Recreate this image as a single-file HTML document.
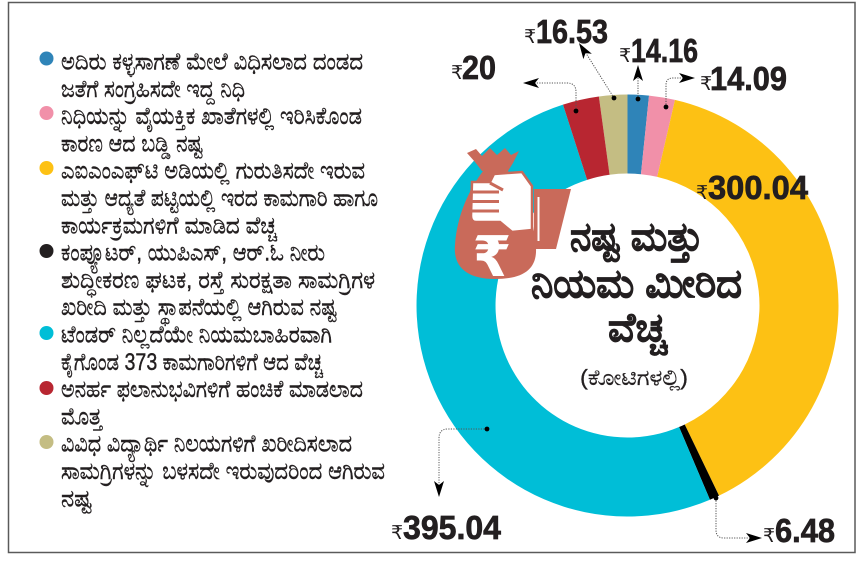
<!DOCTYPE html>
<html>
<head>
<meta charset="utf-8">
<style>
  html,body{margin:0;padding:0;background:#fff;}
  svg{display:block;}
  .lg{font-family:"Liberation Sans","Noto Sans CJK JP",sans-serif;font-size:24px;fill:#231f20;stroke:#231f20;stroke-width:0.45;}
  .num{font-family:"Liberation Sans",sans-serif;font-weight:bold;font-size:33px;fill:#231f20;stroke:#231f20;stroke-width:0.7;}
  .rs{font-family:"Liberation Sans","DejaVu Sans",sans-serif;font-size:19px;fill:#231f20;}
  .ttl{font-family:"Liberation Sans","Noto Sans CJK JP",sans-serif;font-weight:bold;font-size:40px;fill:#231f20;stroke:#231f20;stroke-width:0.6;}
  .sub{font-family:"Liberation Sans","Noto Sans CJK JP",sans-serif;font-size:22px;fill:#231f20;stroke:#231f20;stroke-width:0.3;}
  .ld{fill:none;stroke:#555;stroke-width:1;stroke-dasharray:1.2 1.3;}
</style>
</head>
<body>
<svg width="862" height="565" viewBox="0 0 862 565" xmlns="http://www.w3.org/2000/svg">
  <rect x="0" y="0" width="862" height="565" fill="#fff"/>
  <rect x="8.5" y="2.5" width="846.5" height="550" fill="#fff" stroke="#5a5a5a" stroke-width="1.5"/>

  <!-- Donut -->
  <path d="M598.86,96.45 A211,211 0 0 1 627.5,94.5 L627.5,173.5 A132,132 0 0 0 609.58,174.72 Z" fill="#c4bd83"/>
  <path d="M627.5,94.5 A211,211 0 0 1 649.01,95.60 L640.95,174.19 A132,132 0 0 0 627.5,173.5 Z" fill="#2f84b8"/>
  <path d="M649.01,95.60 A211,211 0 0 1 674.96,99.91 L657.19,176.88 A132,132 0 0 0 640.95,174.19 Z" fill="#f190a9"/>
  <path d="M674.96,99.91 A211,211 0 0 1 719.00,495.63 L684.74,424.44 A132,132 0 0 0 657.19,176.88 Z" fill="#fdc114"/>
  <path d="M719.00,495.63 A211,211 0 0 1 709.94,499.73 L679.08,427.01 A132,132 0 0 0 684.74,424.44 Z" fill="#000"/>
  <path d="M709.94,499.73 A211,211 0 1 1 563.00,104.60 L587.15,179.82 A132,132 0 1 0 679.08,427.01 Z" fill="#00bed7"/>
  <path d="M563.00,104.60 A211,211 0 0 1 598.86,96.45 L609.58,174.72 A132,132 0 0 0 587.15,179.82 Z" fill="#b82631"/>

  <!-- Money bag icon -->
  <g fill="#c96a5a">
    <polygon points="467,153 476,149 482,156 490,148 497,155 505,148 511,155 519,151 513,163 508,171 482,171 475,162"/>
    <path d="M483,171 C469,190 457,215 455,245 C453,266 466,279 495,279 C525,279 537,268 536,248 C535,220 522,192 508,171 Z"/>
    <polygon points="534,189 571,189 556,249 534,249"/>
  </g>
  <path d="M472,182 L490,182 L494,174 L522,172 L532,186 L532,230 L512,232 L500,222 L476,222 Q471,222 471,216 Z" fill="#fff" stroke="#c96a5a" stroke-width="2.5"/>
  <g stroke="#c96a5a" stroke-width="3">
    <line x1="470" y1="192" x2="499" y2="192"/>
    <line x1="470" y1="201.5" x2="499" y2="201.5"/>
    <line x1="470" y1="211" x2="499" y2="211"/>
    <line x1="490" y1="183" x2="503" y2="190"/>
  </g>
  <line x1="538.5" y1="197" x2="538.5" y2="241" stroke="#fff" stroke-width="2"/>
  <text x="492" y="276" text-anchor="middle" font-family="Liberation Sans, DejaVu Sans, sans-serif" font-weight="bold" font-size="56" fill="#fff">₹</text>

  <!-- Center title -->
  <text class="ttl" x="570" y="250" textLength="133" lengthAdjust="spacingAndGlyphs">ನಷ್ಟ ಮತ್ತು</text>
  <text class="ttl" x="531" y="297" textLength="211" lengthAdjust="spacingAndGlyphs">ನಿಯಮ ಮೀರಿದ</text>
  <text class="ttl" x="608" y="341" textLength="59" lengthAdjust="spacingAndGlyphs">ವೆಚ್ಚ</text>
  <text class="sub" x="580" y="385" textLength="108" lengthAdjust="spacingAndGlyphs">(ಕೋಟಿಗಳಲ್ಲಿ)</text>

  <!-- Leader lines -->
  <path class="ld" d="M576,111 L576,92 Q576,83 567,83 L535,83"/>
  <path class="ld" d="M614,98 L584,50"/>
  <path class="ld" d="M638,99 L638,72"/>
  <path class="ld" d="M666,107 L666,85 Q666,78 673,78 L685,78"/>
  <path class="ld" d="M487,429 L448,429 Q439,429 439,438 L439,485"/>
  <path class="ld" d="M716,498 L716,530 Q716,538 724,538 L750,538"/>
  <g fill="#000">
    <circle cx="576" cy="111" r="2.4"/>
    <circle cx="614" cy="98" r="2.4"/>
    <circle cx="638" cy="99" r="2.4"/>
    <circle cx="666" cy="107" r="2.4"/>
    <circle cx="487" cy="429" r="2.4"/>
    <circle cx="716" cy="498" r="2.4"/>
    <polygon transform="translate(523,83) rotate(180)" points="0,0 -16,-5 -12,0 -16,5"/>
    <polygon transform="translate(579,43) rotate(237.5)" points="0,0 -16,-5 -12,0 -16,5"/>
    <polygon transform="translate(638,65) rotate(-90)" points="0,0 -16,-5 -12,0 -16,5"/>
    <polygon transform="translate(695,78) rotate(0)" points="0,0 -16,-5 -12,0 -16,5"/>
    <polygon transform="translate(439,497) rotate(90)" points="0,0 -16,-5 -12,0 -16,5"/>
    <polygon transform="translate(762,538) rotate(0)" points="0,0 -16,-5 -12,0 -16,5"/>
  </g>

  <!-- Value labels -->
  <text class="rs" x="451" y="79">₹</text>
  <text class="num" x="462" y="79" textLength="34" lengthAdjust="spacingAndGlyphs">20</text>
  <text class="rs" x="524" y="43">₹</text>
  <text class="num" x="536" y="43" textLength="72" lengthAdjust="spacingAndGlyphs">16.53</text>
  <text class="rs" x="619" y="62">₹</text>
  <text class="num" x="631" y="62" textLength="67" lengthAdjust="spacingAndGlyphs">14.16</text>
  <text class="rs" x="700" y="90">₹</text>
  <text class="num" x="710" y="90" textLength="77" lengthAdjust="spacingAndGlyphs">14.09</text>
  <text class="rs" x="696" y="199">₹</text>
  <text class="num" x="708" y="199" textLength="100" lengthAdjust="spacingAndGlyphs">300.04</text>
  <text class="rs" x="391" y="539">₹</text>
  <text class="num" x="403" y="539" textLength="98" lengthAdjust="spacingAndGlyphs">395.04</text>
  <text class="rs" x="763" y="542">₹</text>
  <text class="num" x="775" y="542" textLength="60" lengthAdjust="spacingAndGlyphs">6.48</text>

  <!-- Legend dots -->
  <circle cx="46.5" cy="58.5" r="7" fill="#2f84b8"/>
  <circle cx="46.5" cy="113" r="7" fill="#f190a9"/>
  <circle cx="46.5" cy="168" r="7" fill="#fdc114"/>
  <circle cx="46.5" cy="251" r="7" fill="#231f20"/>
  <circle cx="46.5" cy="333" r="7" fill="#00bed7"/>
  <circle cx="46.5" cy="388" r="7" fill="#b82631"/>
  <circle cx="46.5" cy="442" r="7" fill="#c4bd83"/>

  <!-- Legend text -->
  <text class="lg" x="61" y="69.5" textLength="302" lengthAdjust="spacingAndGlyphs">ಅದಿರು ಕಳ್ಳಸಾಗಣೆ ಮೇಲೆ ವಿಧಿಸಲಾದ ದಂಡದ</text>
  <text class="lg" x="61" y="96.8" textLength="184" lengthAdjust="spacingAndGlyphs">ಜತೆಗೆ ಸಂಗ್ರಹಿಸದೇ ಇದ್ದ ನಿಧಿ</text>
  <text class="lg" x="61" y="124.1" textLength="301" lengthAdjust="spacingAndGlyphs">ನಿಧಿಯನ್ನು ವೈಯಕ್ತಿಕ ಖಾತೆಗಳಲ್ಲಿ ಇರಿಸಿಕೊಂಡ</text>
  <text class="lg" x="61" y="151.4" textLength="142" lengthAdjust="spacingAndGlyphs">ಕಾರಣ ಆದ ಬಡ್ಡಿ ನಷ್ಟ</text>
  <text class="lg" x="61" y="178.7" textLength="304" lengthAdjust="spacingAndGlyphs">ಎಐಎಂಎಫ್‌ಟಿ ಅಡಿಯಲ್ಲಿ ಗುರುತಿಸದೇ ಇರುವ</text>
  <text class="lg" x="61" y="206" textLength="317" lengthAdjust="spacingAndGlyphs">ಮತ್ತು ಆದ್ಯತೆ ಪಟ್ಟಿಯಲ್ಲಿ ಇರದ ಕಾಮಗಾರಿ ಹಾಗೂ</text>
  <text class="lg" x="61" y="233.3" textLength="216" lengthAdjust="spacingAndGlyphs">ಕಾರ್ಯಕ್ರಮಗಳಿಗೆ ಮಾಡಿದ ವೆಚ್ಚ</text>
  <text class="lg" x="61" y="260.6" textLength="264" lengthAdjust="spacingAndGlyphs">ಕಂಪ್ಯೂಟರ್, ಯುಪಿಎಸ್, ಆರ್.ಓ ನೀರು</text>
  <text class="lg" x="61" y="287.9" textLength="314" lengthAdjust="spacingAndGlyphs">ಶುದ್ಧೀಕರಣ ಘಟಕ, ರಸ್ತೆ ಸುರಕ್ಷತಾ ಸಾಮಗ್ರಿಗಳ</text>
  <text class="lg" x="61" y="315.2" textLength="276" lengthAdjust="spacingAndGlyphs">ಖರೀದಿ ಮತ್ತು ಸ್ಥಾಪನೆಯಲ್ಲಿ ಆಗಿರುವ ನಷ್ಟ</text>
  <text class="lg" x="61" y="342.5" textLength="271" lengthAdjust="spacingAndGlyphs">ಟೆಂಡರ್ ನಿಲ್ಲದೆಯೇ ನಿಯಮಬಾಹಿರವಾಗಿ</text>
  <text class="lg" x="61" y="369.8" textLength="262" lengthAdjust="spacingAndGlyphs">ಕೈಗೊಂಡ 373 ಕಾಮಗಾರಿಗಳಿಗೆ ಆದ ವೆಚ್ಚ</text>
  <text class="lg" x="61" y="397.1" textLength="302" lengthAdjust="spacingAndGlyphs">ಅನರ್ಹ ಫಲಾನುಭವಿಗಳಿಗೆ ಹಂಚಿಕೆ ಮಾಡಲಾದ</text>
  <text class="lg" x="61" y="424.4" textLength="41" lengthAdjust="spacingAndGlyphs">ಮೊತ್ತ</text>
  <text class="lg" x="61" y="451.7" textLength="291" lengthAdjust="spacingAndGlyphs">ವಿವಿಧ ವಿದ್ಯಾರ್ಥಿ ನಿಲಯಗಳಿಗೆ ಖರೀದಿಸಲಾದ</text>
  <text class="lg" x="61" y="479" textLength="324" lengthAdjust="spacingAndGlyphs">ಸಾಮಗ್ರಿಗಳನ್ನು ಬಳಸದೇ ಇರುವುದರಿಂದ ಆಗಿರುವ</text>
  <text class="lg" x="61" y="506.3" textLength="31" lengthAdjust="spacingAndGlyphs">ನಷ್ಟ</text>
</svg>
</body>
</html>
